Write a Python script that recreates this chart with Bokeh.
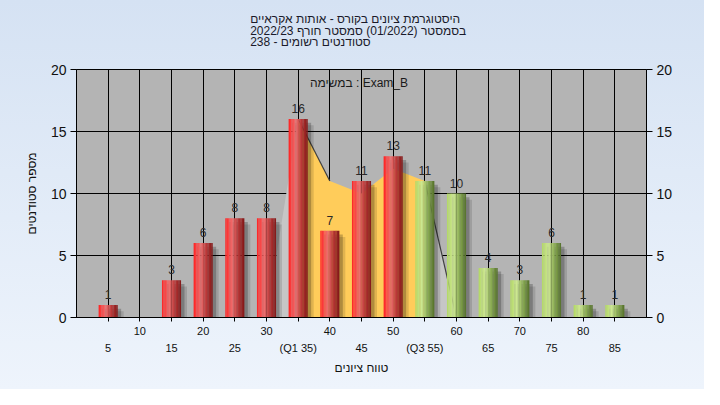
from bokeh.plotting import figure
from bokeh.models import LinearAxis, FixedTicker, Range1d, Label
from bokeh.embed import file_html
from bokeh.resources import INLINE
from bokeh.core.properties import value

# ---------------- data ----------------
grades = [5, 10, 15, 20, 25, 30, 35, 40, 45, 50, 55, 60, 65, 70, 75, 80, 85]
counts = [1, 0, 3, 6, 8, 8, 16, 7, 11, 13, 11, 10, 4, 3, 6, 1, 1]
q1 = 35
q3 = 55
area_x = [30, 35, 40, 45, 50, 55, 60]
area_y = [0, 16, 11, 10, 12, 11, 0]
y_ticks = [0, 5, 10, 15, 20]
quartile_labels = {35: "(Q1 35)", 55: "(Q3 55)"}
title_lines = [
    "היסטוגרמת ציונים בקורס - אותות אקראיים",
    "בסמסטר  (01/2022)  סמסטר חורף 2022/23",
    "סטודנטים רשומים - 238",
]
task_text = "במשימה : Exam_B"
x_title = "טווח ציונים"
y_title = "מספר סטודנטים"

FONT = "Liberation Sans"

p = figure(width=704, height=389, output_backend="svg", toolbar_location=None,
           x_range=Range1d(0, 90), y_range=Range1d(0, 20),
           min_border_left=76, min_border_right=58, min_border_top=69, min_border_bottom=72,
           background_fill_color="#B4B4B4", border_fill_color=None,
           styles={"background": "linear-gradient(180deg, #D5E2F3 0%, #EEF4FC 100%)"})

p.outline_line_color = "black"

# title (a trailing empty line lifts the block above the frame)
p.title.text = "\n".join(title_lines + [""])
p.title.align = "center"
p.title.text_font = FONT
p.title.text_font_size = "12px"
p.title.text_font_style = "normal"
p.title.text_color = "#1a1a2a"
p.title.text_line_height = 0.82
p.title.standoff = 18

# grids
p.xgrid.ticker = FixedTicker(ticks=grades)
p.ygrid.ticker = FixedTicker(ticks=y_ticks)
for g in (p.xgrid, p.ygrid):
    g.grid_line_color = "black"
    g.grid_line_alpha = 1.0
    g.grid_line_width = 1

# y axes (left + right)
p.yaxis.ticker = FixedTicker(ticks=y_ticks)
yr = LinearAxis(ticker=FixedTicker(ticks=y_ticks))
p.add_layout(yr, "right")
for ax in (p.yaxis[0], yr):
    ax.major_label_text_font = FONT
    ax.major_label_text_font_size = "14px"
    ax.major_label_text_color = "#111"
    ax.axis_line_color = "black"
    ax.major_tick_line_color = "black"
    ax.major_tick_out = 6
    ax.major_tick_in = 0
    ax.minor_tick_line_color = None
    ax.major_label_standoff = 4
p.yaxis[0].axis_label = y_title
p.yaxis[0].axis_label_text_font = FONT
p.yaxis[0].axis_label_text_font_size = "12px"
p.yaxis[0].axis_label_text_font_style = "normal"
p.yaxis[0].axis_label_text_color = "#111"
p.yaxis[0].axis_label_standoff = 9

# x axes: staggered labels
odd = [g for g in grades if g % 10 != 0]
xa = p.xaxis[0]
xa.ticker = FixedTicker(ticks=grades)
xa.major_label_overrides = {g: "" for g in odd}
xb = LinearAxis(ticker=FixedTicker(ticks=odd),
                major_label_overrides={k: v for k, v in quartile_labels.items()})
p.add_layout(xb, "below")
for ax in (xa, xb):
    ax.major_label_text_font = FONT
    ax.major_label_text_font_size = "11px"
    ax.major_label_text_color = "#111"
    ax.minor_tick_line_color = None
    ax.major_tick_in = 0
xa.axis_line_color = "black"
xa.major_tick_line_color = "black"
xa.major_tick_out = 4
xa.major_label_standoff = 5
xb.axis_line_color = None
xb.major_tick_line_color = None
xb.major_tick_out = 0
xb.major_label_standoff = 4
xb.axis_label = x_title
xb.axis_label_text_font = FONT
xb.axis_label_text_font_size = "12px"
xb.axis_label_text_font_style = "normal"
xb.axis_label_text_color = "#111"
xb.axis_label_standoff = 4

# ---------------- quartile area ----------------
def poly_segment(lo, hi):
    xs = [lo]
    ys = [0]
    for x, y in zip(area_x, area_y):
        if lo <= x <= hi:
            xs.append(x)
            ys.append(y)
    xs.append(hi)
    ys.append(0)
    return xs, ys

lx, ly = poly_segment(area_x[0], q1)
rx, ry = poly_segment(q3, area_x[-1])
mx, my = poly_segment(q1, q3)
p.patch(lx, ly, fill_color="#C6C6C6", line_color=None)
p.patch(rx, ry, fill_color="#C6C6C6", line_color=None)
p.patch(mx, my, fill_color="#FFCC5A", line_color=None)
seg_xs, seg_ys = [], []
for i in range(len(area_x) - 1):
    if area_y[i + 1] < area_y[i] - 2:
        seg_xs.append([area_x[i], area_x[i + 1]])
        seg_ys.append([area_y[i], area_y[i + 1]])
p.multi_line(seg_xs, seg_ys, line_color="#404040", line_width=1.2)

# ---------------- bars ----------------
BAR_W = 3.0
nz_x = [g for g, c in zip(grades, counts) if c > 0]
nz_c = [c for c in counts if c > 0]

# shadows
p.vbar(x=[g + 0.95 for g in nz_x], width=BAR_W, top=[c - 0.5 for c in nz_c], bottom=0,
       fill_color="black", fill_alpha=0.12, line_color=None)
p.vbar(x=[g + 0.55 for g in nz_x], width=BAR_W, top=[c - 0.3 for c in nz_c], bottom=0,
       fill_color="black", fill_alpha=0.22, line_color=None)

red_stops = [(0.0, (255, 35, 35)), (0.38, (238, 112, 112)), (0.65, (190, 58, 58)), (1.0, (128, 24, 24))]
green_stops = [(0.0, (178, 216, 100)), (0.35, (206, 232, 148)), (0.62, (145, 180, 88)), (1.0, (84, 112, 44))]

def grad(stops, t):
    for (t0, c0), (t1, c1) in zip(stops[:-1], stops[1:]):
        if t0 <= t <= t1:
            f = (t - t0) / (t1 - t0)
            r, g, b = (int(round(a + (bb - a) * f)) for a, bb in zip(c0, c1))
            return "#%02x%02x%02x" % (r, g, b)
    return "#%02x%02x%02x" % stops[-1][1]

N = 14
sw = BAR_W / N
for k in range(N):
    t = (k + 0.5) / N
    xs = [g - BAR_W / 2 + (k + 0.5) * sw for g in nz_x]
    cols = [grad(red_stops if g < q3 else green_stops, t) for g in nz_x]
    p.vbar(x=xs, width=sw * 1.08, top=nz_c, bottom=0, fill_color=cols, line_color=None)

# value labels
p.text(x=nz_x, y=nz_c, text=[str(c) for c in nz_c], text_align="center", text_baseline="bottom",
       y_offset=-6, text_font=value(FONT), text_font_size="12px", text_color="#2a2a2a")

# task label
p.add_layout(Label(x=44.6, y=18.9, text=task_text, text_align="center", text_baseline="middle",
                   text_font=FONT, text_font_size="12px", text_color="#1a1a1a"))

open("out.html", "w").write(file_html(p, INLINE))
